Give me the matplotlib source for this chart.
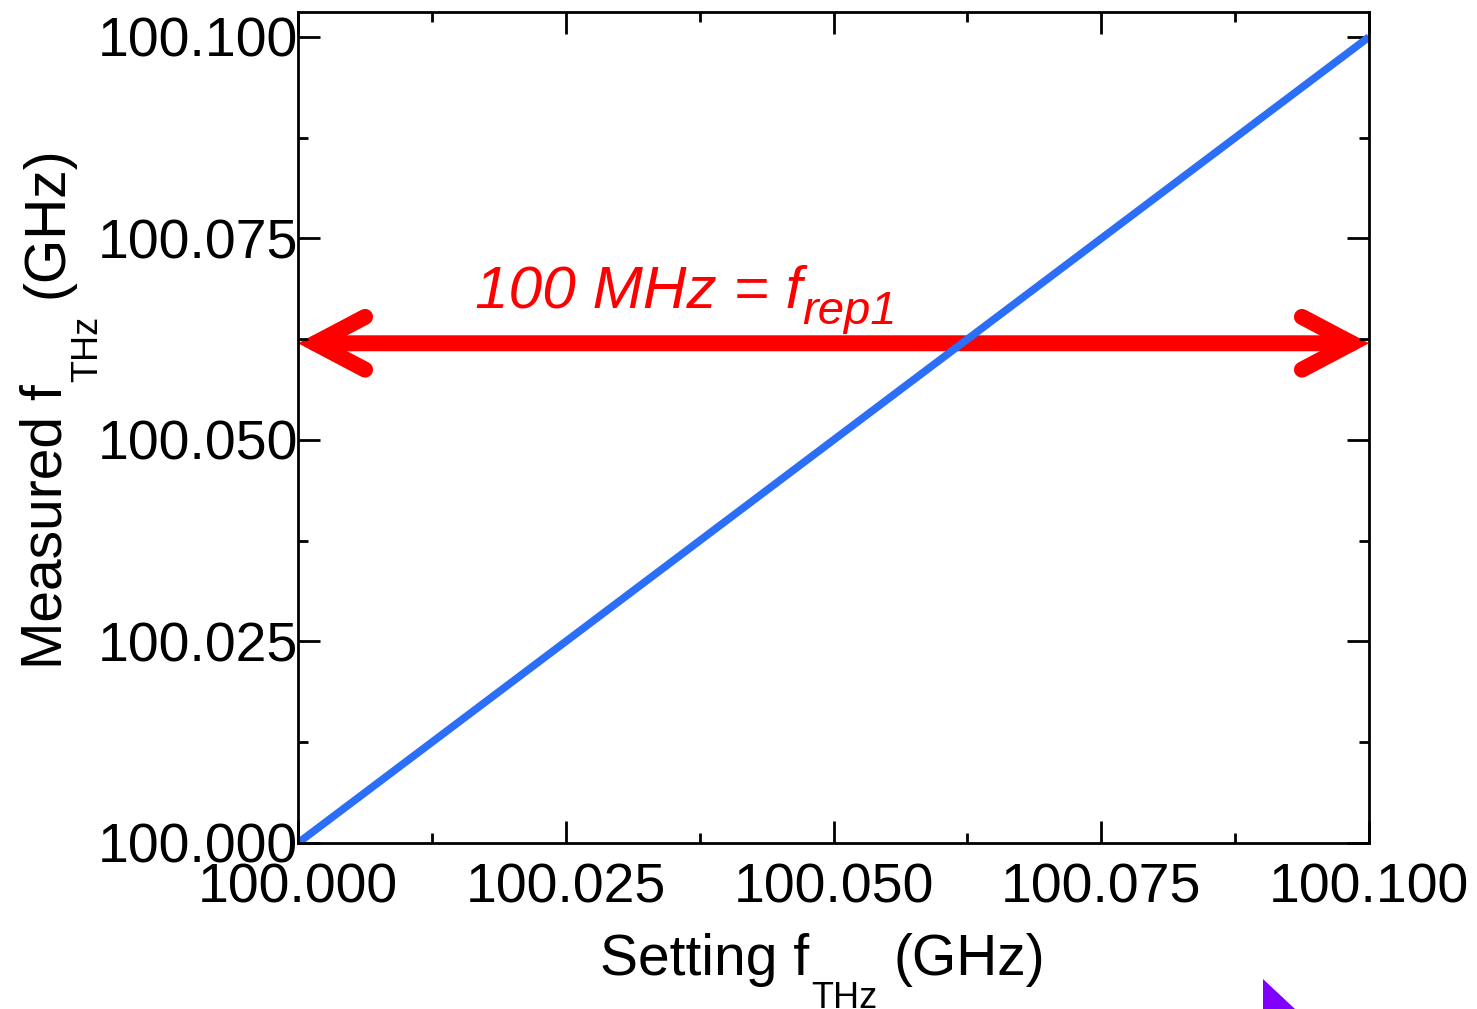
import numpy as np
import matplotlib.pyplot as plt
from matplotlib.patches import FancyArrowPatch, Polygon
from matplotlib.ticker import MultipleLocator, FormatStrFormatter

plt.rcParams['font.family'] = ['Liberation Sans', 'DejaVu Sans']

setting = [100.000, 100.100]
measured = [100.000, 100.100]
span_start = 100.000
span_end = 100.100
span_y = 100.062
W, H = 1477, 1009

fig = plt.figure(figsize=(W / 100, H / 100), dpi=100)
ax = fig.add_axes([298 / W, 166 / H, 1071 / W, 831 / H])

ax.plot(setting, measured, color='#2B6EF8', lw=5.5, solid_capstyle='butt')

arrow = FancyArrowPatch((span_start, span_y), (span_end, span_y),
                        arrowstyle='<->,head_length=36,head_width=19',
                        mutation_scale=1, color='#FF0000', lw=11.5,
                        capstyle='round', joinstyle='miter',
                        shrinkA=0, shrinkB=0)
ax.add_patch(arrow)

# label above the arrow, with a lowered subscript
t1 = ax.text(100.0165, 100.0664, '100 MHz = f', color='#FF0000',
             fontsize=43.5, style='italic', ha='left', va='baseline')
ax.annotate('rep1', xy=(1, 0), xycoords=t1, xytext=(0, -14),
            textcoords='offset pixels', color='#FF0000', fontsize=34,
            style='italic', ha='left', va='bottom')

ax.set_xlim(100.000, 100.100)
ax.set_ylim(100.000, 100.1031)
ax.xaxis.set_major_locator(MultipleLocator(0.025))
ax.xaxis.set_minor_locator(MultipleLocator(0.0125))
ax.yaxis.set_major_locator(MultipleLocator(0.025))
ax.yaxis.set_minor_locator(MultipleLocator(0.0125))
ax.xaxis.set_major_formatter(FormatStrFormatter('%.3f'))
ax.yaxis.set_major_formatter(FormatStrFormatter('%.3f'))

ax.tick_params(which='both', direction='in', top=True, right=True, width=2)
ax.tick_params(which='major', length=16, labelsize=40)
ax.tick_params(which='minor', length=7)
ax.tick_params(axis='x', pad=14)
ax.tick_params(axis='y', pad=0)
for s in ax.spines.values():
    s.set_linewidth(2)

# x label: Setting f_THz (GHz)
xl = fig.text(600 / W, 1 - 975 / H, 'Setting f', fontsize=41,
              ha='left', va='baseline')
xsub = ax.annotate('THz', xy=(1, 0), xycoords=xl, xytext=(2, -29),
                   textcoords='offset pixels', fontsize=26,
                   ha='left', va='bottom', annotation_clip=False)
ax.annotate('(GHz)', xy=(1, 0), xycoords=(xsub, xl), xytext=(16, 0),
            textcoords='offset pixels', fontsize=41,
            ha='left', va='bottom', annotation_clip=False)

# y label: Measured f_THz (GHz)
yl = fig.text(74 / W, 1 - 669 / H, 'Measured f', fontsize=41, rotation=90,
              ha='right', va='bottom')
ysub = ax.annotate('THz', xy=(1, 1), xycoords=yl, xytext=(31, 2),
                   textcoords='offset pixels', fontsize=26, rotation=90,
                   ha='right', va='bottom', annotation_clip=False)
ax.annotate('(GHz)', xy=(1, 1), xycoords=(yl, ysub), xytext=(0, 18),
            textcoords='offset pixels', fontsize=41, rotation=90,
            ha='right', va='bottom', annotation_clip=False)

fig.patches.append(Polygon([[1263 / W, 30 / H], [1263 / W, 0], [1295 / W, 0]],
                           closed=True, transform=fig.transFigure,
                           facecolor='#8000FF', edgecolor='none'))

fig.savefig('out.png', dpi=100)
